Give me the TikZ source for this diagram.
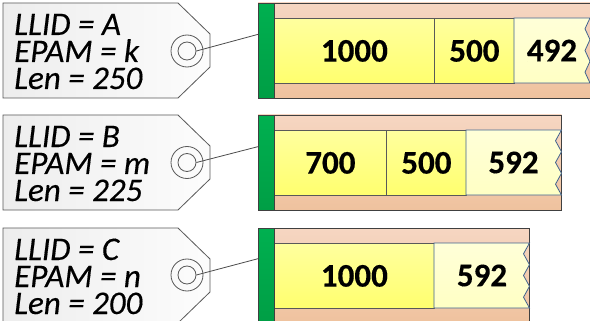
\documentclass[tikz,border=0pt]{standalone}
\usepackage{fontspec}
\setmainfont{Carlito}[ItalicFeatures={FakeBold=0.35},BoldFeatures={FakeBold=0.35}]
\usetikzlibrary{calc}
\definecolor{tanA}{HTML}{F6D6C2}
\definecolor{tanB}{HTML}{EFC29E}
\definecolor{yelA}{HTML}{FFFF9E}
\definecolor{yelB}{HTML}{FFFF6E}
\definecolor{paleA}{HTML}{FFFFD8}
\definecolor{paleB}{HTML}{FFFFC4}
\definecolor{grA}{HTML}{00B050}
\definecolor{grB}{HTML}{009E45}
\definecolor{edgeblue}{HTML}{41638F}
\tikzset{
  tagshape/.style={draw=black!65, line width=0.8pt, left color=black!7, right color=black!1},
  tagtext/.style={anchor=base west, inner sep=0pt, font=\itshape\fontsize{33}{33}\selectfont},
  hole/.style={circle, draw=black!65, line width=0.8pt, inner sep=0pt, minimum size=#1},
  link/.style={draw=black!70, line width=0.8pt},
  barbox/.style={draw=black!75, line width=0.9pt, top color=tanA, bottom color=tanB},
  greenbar/.style={draw=black!75, line width=0.9pt, top color=grA, bottom color=grB,
    minimum width=16pt, minimum height=95pt, anchor=north west, inner sep=0pt},
  cell/.style={draw=black!65, line width=0.8pt, top color=yelA, bottom color=yelB,
    minimum height=65pt, anchor=north west, inner sep=0pt},
  paleshape/.style={draw=edgeblue, line width=0.8pt, top color=paleA, bottom color=paleB},
  num/.style={inner sep=0pt, font=\bfseries\fontsize{33}{33}\selectfont}
}
\begin{document}
\begin{tikzpicture}[x=1pt,y=-1pt]
\clip (0,0) rectangle (590,321);
\fill[white] (0,0) rectangle (590,321);

% ---------- Row A ----------
\path[tagshape] (3,3) -- (178,3) -- (210,34) -- (210,67) -- (178,98) -- (3,98) -- cycle;
\node[tagtext] (a1) at (14,35) {LLID = A};
\node[tagtext] (a2) at (14,62) {EPAM = k};
\node[tagtext] (a3) at (14,89) {Len = 250};
\node[hole=32pt] (ho) at (187,51) {};
\node[hole=18pt] (hi) at (187,51) {};
\path[barbox] (258,3) rectangle (600,98);
\node[cell, minimum width=160pt] (ca1) at (274,18) {};
\node[num] at (ca1.center) {1000};
\node[cell, minimum width=80pt] (ca2) at (434,18) {};
\node[num] at (ca2.center) {500};
\path[paleshape] (514,18) -- (590,18) -- (585,28.8) -- (590,39.7) -- (585,50.5) -- (590,61.3) -- (585,72.2) -- (590,83) -- (514,83) -- cycle;
\node[num] (ca3) at (552,50.5) {492};
\node[greenbar] (ga) at (258,3) {};
\coordinate (ta) at ($(ga.north west)!0.327!(ga.south west)$);
\draw[link] (hi.east) -- (ta);

% ---------- Row B ----------
\path[tagshape] (3,115) -- (178,115) -- (210,146) -- (210,179) -- (178,210) -- (3,210) -- cycle;
\node[tagtext] (b1) at (14,147) {LLID = B};
\node[tagtext] (b2) at (14,174) {EPAM = m};
\node[tagtext] (b3) at (14,201) {Len = 225};
\node[hole=32pt] (hob) at (187,162.5) {};
\node[hole=18pt] (hib) at (187,162.5) {};
\path[barbox] (258,115) rectangle (561.5,210);
\node[cell, minimum width=112pt] (cb1) at (274,130) {};
\node[num] at (cb1.center) {700};
\node[cell, minimum width=80pt] (cb2) at (386,130) {};
\node[num] at (cb2.center) {500};
\path[paleshape] (466,130) -- (561.5,130) -- (555.5,140.8) -- (561.5,151.7) -- (555.5,162.5) -- (561.5,173.3) -- (555.5,184.2) -- (561.5,195) -- (466,195) -- cycle;
\node[num] (cb3) at (513.5,162.5) {592};
\node[greenbar] (gb) at (258,115) {};
\coordinate (tb) at ($(gb.north west)!0.33!(gb.south west)$);
\draw[link] (hib.east) -- (tb);

% ---------- Row C ----------
\path[tagshape] (3,228) -- (178,228) -- (210,259) -- (210,292) -- (178,323) -- (3,323) -- cycle;
\node[tagtext] (c1) at (14,260) {LLID = C};
\node[tagtext] (c2) at (14,287) {EPAM = n};
\node[tagtext] (c3) at (14,314) {Len = 200};
\node[hole=32pt] (hoc) at (187,275) {};
\node[hole=18pt] (hic) at (187,275) {};
\path[barbox] (258,228) rectangle (529.5,323);
\node[cell, minimum width=160pt] (cc1) at (274,243) {};
\node[num] at (cc1.center) {1000};
\path[paleshape] (434,243) -- (529.5,243) -- (523.5,253.8) -- (529.5,264.7) -- (523.5,275.5) -- (529.5,286.3) -- (523.5,297.2) -- (529.5,308) -- (434,308) -- cycle;
\node[num] (cc3) at (482,275.5) {592};
\node[greenbar] (gc) at (258,228) {};
\coordinate (tc) at ($(gc.north west)!0.32!(gc.south west)$);
\draw[link] (hic.east) -- (tc);
\end{tikzpicture}
\end{document}
